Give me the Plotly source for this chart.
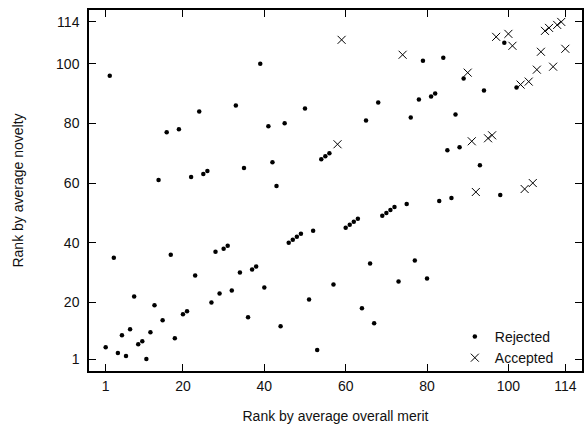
import plotly.graph_objects as go

# Rejected papers: (rank by overall merit, rank by novelty)
rejected_merit = [2, 14, 16, 19, 22, 24, 25, 26, 33, 3, 17, 28, 30, 31, 34, 23, 32, 29, 27, 8,
                  13, 21, 20, 15, 18, 7, 5, 12, 10, 9, 1, 4, 6, 11, 39, 50, 68, 65, 41, 45,
                  54, 55, 56, 35, 42, 43, 46, 47, 48, 49, 52, 60, 61, 62, 63, 69, 70, 71, 72, 75,
                  37, 38, 40, 66, 57, 73, 51, 64, 36, 44, 67, 53, 79, 84, 99, 102, 89, 94, 82, 81,
                  78, 76, 87, 88, 85, 93, 83, 86, 98, 77, 80]
rejected_novelty = [96, 61, 77, 78, 62, 84, 63, 64, 86, 35, 36, 37, 38, 39, 30, 29, 24, 23, 20, 22,
                    19, 17, 16, 14, 8, 11, 9, 10, 7, 6, 5, 3, 2, 1, 100, 85, 87, 81, 79, 80,
                    68, 69, 70, 65, 67, 59, 40, 41, 42, 43, 44, 45, 46, 47, 48, 49, 50, 51, 52, 53,
                    31, 32, 25, 33, 26, 27, 21, 18, 15, 12, 13, 4, 101, 102, 107, 92, 95, 91, 90, 89,
                    88, 82, 83, 72, 71, 66, 54, 55, 56, 34, 28]

# Accepted papers
accepted_merit = [59, 74, 58, 97, 100, 101, 109, 110, 112, 113, 108, 114, 111, 107, 105, 103,
                  90, 91, 95, 96, 92, 104, 106]
accepted_novelty = [108, 103, 73, 109, 110, 106, 111, 112, 113, 114, 104, 105, 99, 98, 94, 93,
                    97, 74, 75, 76, 57, 58, 60]

tick_vals = [1, 20, 40, 60, 80, 100, 114]
tick_text = ["1", "20", "40", "60", "80", "100", "114"]

font = dict(family="Liberation Sans, Arial, sans-serif", size=14, color="#111")

fig = go.Figure()
fig.add_trace(go.Scatter(
    x=rejected_merit, y=rejected_novelty, mode="markers", name="Rejected",
    marker=dict(symbol="circle", size=4.5, color="#000", line=dict(width=0)),
))
fig.add_trace(go.Scatter(
    x=accepted_merit, y=accepted_novelty, mode="markers", name="Accepted",
    marker=dict(symbol="x-thin", size=8, color="#000", line=dict(width=1, color="#000")),
))

axis_common = dict(
    range=[-3.1, 118.1], tickvals=tick_vals, ticktext=tick_text,
    ticks="inside", ticklen=7, tickwidth=1, tickcolor="#000",
    showline=True, linecolor="#000", linewidth=1.5, mirror="ticks",
    showgrid=False, zeroline=False, tickfont=font,
)

fig.update_layout(
    width=584, height=424,
    margin=dict(l=89, r=2, t=10, b=53, autoexpand=False),
    paper_bgcolor="white", plot_bgcolor="white",
    font=font,
    xaxis=dict(axis_common, title=dict(text="Rank by average overall merit", font=font, standoff=19),
               ticklabelstandoff=1),
    yaxis=dict(axis_common, range=[-3.0, 118.0],
               title=dict(text="Rank by average novelty", font=font, standoff=29),
               ticklabelstandoff=5),
    legend=dict(x=0.953, y=-0.008, xanchor="right", yanchor="bottom",
                bgcolor="rgba(0,0,0,0)", font=font, tracegroupgap=0,
                itemwidth=30),
    showlegend=True,
)

fig.write_html("out.html", config={"displayModeBar": False},
               post_script="document.body.style.margin='0';")
